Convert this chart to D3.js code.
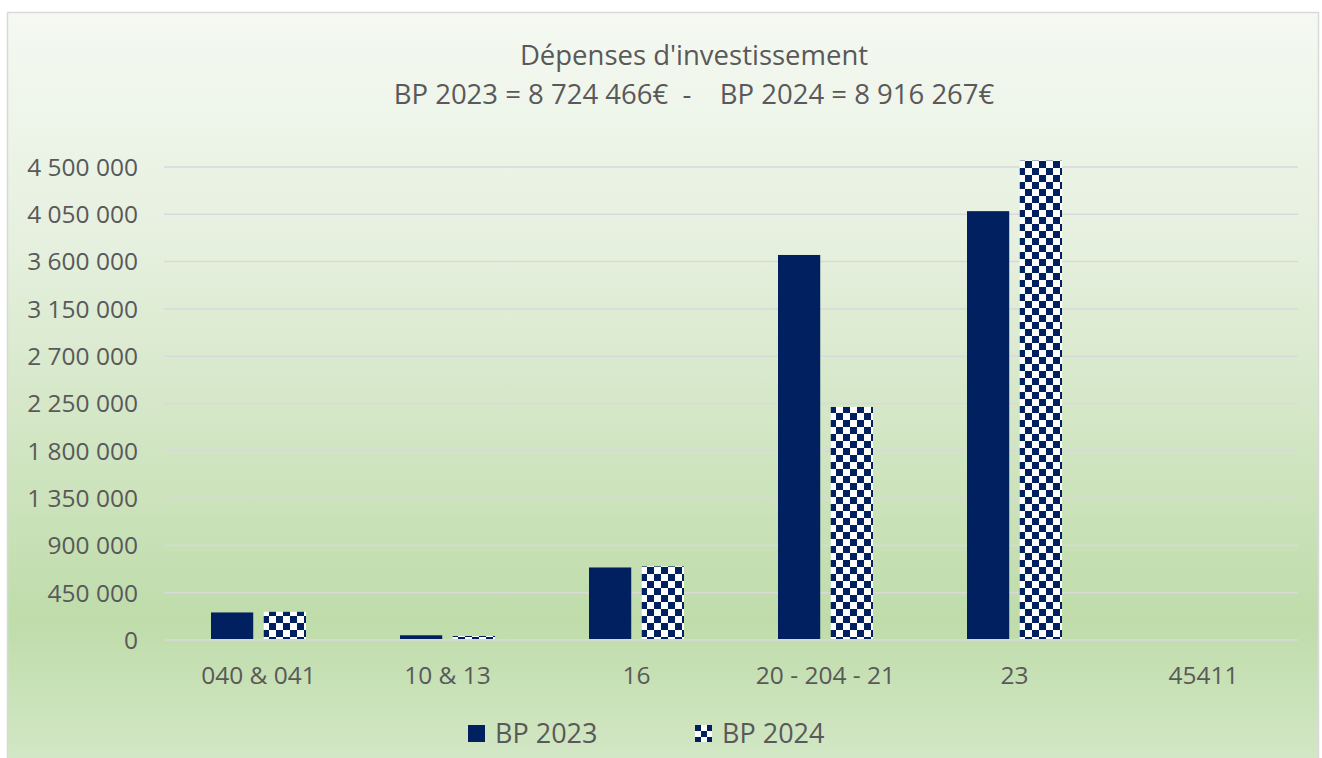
<!DOCTYPE html>
<html>
<head>
  <meta charset="UTF-8">
  <title>Dépenses d'investissement</title>
  <script src="https://d3js.org/d3.v7.min.js"></script>
  <style>
    body {
      margin: 0;
      padding: 0;
      background: #fff;
      font-family: "Open Sans", sans-serif;
    }
    .grid line {
      stroke: #d9d9d9;
      stroke-width: 1.5;
    }
    .label {
      fill: #595959;
      font-size: 24.5px;
    }
  </style>
</head>
<body>
  <div id="chart"></div>

  <script>
    // Données
    const categories = ["040 & 041", "10 & 13", "16", "20 - 204 - 21", "23", "45411"];
    const series = ["BP 2023", "BP 2024"];
    const bp2023 = [262000, 45000, 690000, 3663000, 4080000, 0];
    const bp2024 = [268000, 38000, 700000, 2217000, 4560000, 0];
    const yTicks = [0, 450000, 900000, 1350000, 1800000, 2250000, 2700000, 3150000, 3600000, 4050000, 4500000];
    const titleLines = ["Dépenses d'investissement", "BP 2023 = 8 724 466€  -    BP 2024 = 8 916 267€"];

    const width = 1322;
    const height = 758;
    const margin = { top: 167, right: 24, bottom: 118, left: 164 };

    const svg = d3.select("#chart").append("svg")
      .attr("width", width)
      .attr("height", height);

    const defs = svg.append("defs");

    // fond dégradé vert
    const grad = defs.append("linearGradient")
      .attr("id", "bg")
      .attr("x1", 0).attr("y1", 0).attr("x2", 0).attr("y2", 1);
    grad.append("stop").attr("offset", "0%").attr("stop-color", "#f5f9f2");
    grad.append("stop").attr("offset", "30%").attr("stop-color", "#e6f0df");
    grad.append("stop").attr("offset", "80%").attr("stop-color", "#bfdcaa");
    grad.append("stop").attr("offset", "100%").attr("stop-color", "#d4e8c8");

    // motif damier
    const cell = 7;
    const pat = defs.append("pattern")
      .attr("id", "checker")
      .attr("patternUnits", "userSpaceOnUse")
      .attr("width", cell * 2)
      .attr("height", cell * 2);
    pat.append("rect").attr("width", cell * 2).attr("height", cell * 2).attr("fill", "#fff");
    pat.append("rect").attr("x", 0).attr("y", 0).attr("width", cell).attr("height", cell).attr("fill", "#002060");
    pat.append("rect").attr("x", cell).attr("y", cell).attr("width", cell).attr("height", cell).attr("fill", "#002060");

    const patSmall = defs.append("pattern")
      .attr("id", "checkerSmall")
      .attr("patternUnits", "userSpaceOnUse")
      .attr("x", 695).attr("y", 725)
      .attr("width", 12)
      .attr("height", 12);
    patSmall.append("rect").attr("width", 12).attr("height", 12).attr("fill", "#fff");
    patSmall.append("rect").attr("width", 6).attr("height", 6).attr("fill", "#002060");
    patSmall.append("rect").attr("x", 6).attr("y", 6).attr("width", 6).attr("height", 6).attr("fill", "#002060");

    svg.append("rect")
      .attr("x", 7.5).attr("y", 12.5)
      .attr("width", 1311).attr("height", 760)
      .attr("fill", "url(#bg)")
      .attr("stroke", "#d9d9d9")
      .attr("stroke-width", 1.5);

    const fills = { "BP 2023": "#002060", "BP 2024": "url(#checker)" };

    const x0 = d3.scaleBand()
      .domain(categories)
      .range([margin.left, width - margin.right]);

    const x1 = d3.scaleBand()
      .domain(series)
      .range([(x0.bandwidth() - 95) / 2, (x0.bandwidth() + 95) / 2])
      .paddingInner(0.2);

    const y = d3.scaleLinear()
      .domain([0, 4500000])
      .range([height - margin.bottom, margin.top]);

    const fmt = d => d3.format(",")(d).replace(/,/g, " ");

    // lignes de grille
    svg.append("g")
      .attr("class", "grid")
      .selectAll("line")
      .data(yTicks)
      .join("line")
      .attr("x1", margin.left)
      .attr("x2", width - margin.right)
      .attr("y1", d => y(d))
      .attr("y2", d => y(d));

    // axe Y
    svg.append("g")
      .selectAll("text")
      .data(yTicks)
      .join("text")
      .attr("class", "label")
      .attr("x", 138)
      .attr("y", d => y(d))
      .attr("dy", "0.36em")
      .attr("text-anchor", "end")
      .text(fmt);

    // barres
    const rows = categories.map((c, i) => ({ cat: c, values: [
      { key: "BP 2023", value: bp2023[i] },
      { key: "BP 2024", value: bp2024[i] }
    ] }));

    const groups = svg.append("g")
      .selectAll("g")
      .data(rows)
      .join("g")
      .attr("transform", d => `translate(${x0(d.cat)},0)`);

    groups.selectAll("rect")
      .data(d => d.values.filter(v => v.value > 0))
      .join("rect")
      .attr("x", d => x1(d.key))
      .attr("width", x1.bandwidth())
      .attr("y", d => y(d.value))
      .attr("height", d => y(0) - y(d.value) - 1)
      .attr("fill", d => fills[d.key]);

    // axe X
    svg.append("g")
      .selectAll("text")
      .data(categories)
      .join("text")
      .attr("class", "label")
      .attr("x", d => x0(d) + x0.bandwidth() / 2)
      .attr("y", 684)
      .attr("text-anchor", "middle")
      .text(d => d);

    // titre
    svg.append("g")
      .selectAll("text")
      .data(titleLines)
      .join("text")
      .attr("class", "label")
      .attr("x", 694)
      .attr("y", (d, i) => 65 + i * 39)
      .attr("text-anchor", "middle")
      .style("font-size", "27.5px")
      .attr("xml:space", "preserve")
      .text(d => d);

    // légende
    const legend = [
      { key: "BP 2023", x: 468, fill: "#002060" },
      { key: "BP 2024", x: 695, fill: "url(#checkerSmall)" }
    ];
    const lg = svg.append("g")
      .selectAll("g")
      .data(legend)
      .join("g");
    lg.append("rect")
      .attr("x", d => d.x)
      .attr("y", 725)
      .attr("width", 17)
      .attr("height", 17)
      .attr("fill", d => d.fill);
    lg.append("text")
      .attr("class", "label")
      .attr("x", d => d.x + 27)
      .attr("y", 743)
      .style("font-size", "27px")
      .text(d => d.key);
  </script>
</body>
</html>
